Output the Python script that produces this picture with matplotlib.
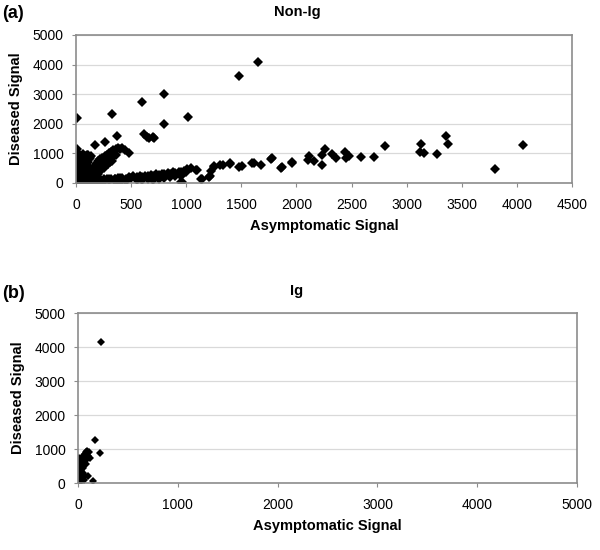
import matplotlib
matplotlib.use("Agg")
import matplotlib.pyplot as plt

plt.rcParams['font.family'] = ['Liberation Sans', 'DejaVu Sans']

# (a) Non-Ig: asymptomatic vs diseased signal
nonig_x = [
    # cluster near origin
    0, 5, 10, 15, 20, 25, 30, 10, 5, 15, 20, 0, 40, 50, 60, 70, 80, 90, 100, 110,
    120, 130, 140, 60, 40, 50, 30, 20, 80, 100, 120, 140, 160, 180, 200, 220,
    240, 260, 280, 300, 320, 340, 360, 380, 160, 180, 200, 220, 240, 260, 280,
    300, 320, 340, 360, 180, 200, 220, 250, 270, 290, 310, 330, 120, 140, 160,
    150, 100, 70, 200, 250, 300, 350, 400, 30, 50, 70, 90, 110, 15, 60, 35, 45,
    # lower branch
    150, 180, 200, 230, 250, 280, 300, 320, 350, 380, 400, 420, 450, 480, 500,
    520, 550, 580, 600, 630, 650, 680, 700, 730, 750, 780, 800, 830, 850, 880,
    900, 930, 950, 980, 1000, 350, 450, 550, 650, 750, 850, 950, 400, 600, 700,
    800, 900, 1010, 1040, 1085, 1100, 1130, 1139, 1205, 1220, 1221, 1250, 1250,
    1310, 1335, 1400, 1401, 1476, 1506, 1596, 1611, 1677, 1776, 1770, 1867,
    1860, 1957, 1963, 2101, 2113, 2161, 2233, 2236, 2257, 2326, 2362, 2444,
    2453, 2474, 2588, 2699, 2799, 3123, 3129, 3159, 3273, 3360, 3375, 3805,
    4051, 956, 965,
    # outliers
    10, 330, 600, 800, 800, 1020, 1480, 1650, 620, 660, 700, 370, 10, 170, 260,
    100, 480, 400, 640, 710, 420, 440,
]
nonig_y = [
    0, 30, 80, 150, 250, 350, 450, 500, 600, 700, 800, 300, 60, 120, 200, 300,
    400, 500, 600, 700, 800, 850, 900, 650, 550, 400, 200, 100, 150, 250, 350,
    450, 550, 650, 750, 800, 850, 900, 950, 1000, 1050, 1100, 1150, 1180, 300,
    400, 500, 600, 650, 700, 750, 800, 850, 900, 950, 250, 300, 400, 500, 600,
    650, 700, 750, 150, 200, 100, 50, 30, 20, 150, 120, 140, 150, 160, 600, 750,
    850, 900, 950, 1000, 980, 20, 880,
    60, 90, 70, 110, 80, 120, 100, 140, 120, 160, 130, 170, 150, 200, 170, 220,
    190, 230, 210, 250, 230, 270, 250, 290, 280, 320, 300, 340, 320, 360, 340,
    380, 370, 400, 380, 60, 80, 100, 120, 150, 200, 250, 40, 90, 110, 180, 220,
    470, 500, 440, 440, 125, 135, 213, 236, 416, 551, 585, 608, 608, 642, 665,
    551, 585, 686, 687, 608, 834, 800, 530, 518, 687, 699, 777, 912, 743, 608,
    946, 1149, 980, 834, 1058, 855, 912, 889, 889, 1261, 1036, 1306, 1024, 980,
    1588, 1318, 480, 1300, 24, 44,
    2200, 2320, 2750, 3000, 2000, 2220, 3600, 4080, 1650, 1530, 1570, 1580,
    1150, 1300, 1400, 950, 1020, 1140, 1565, 1530, 1180, 1120,
]

# (b) Ig
ig_x = [0, 5, 10, 15, 20, 8, 25, 30, 40, 35, 50, 45, 60, 55, 70, 80, 90, 100,
        65, 20, 10, 5, 30, 60, 75, 50, 40, 85, 95, 110, 120, 15, 0, 2, 45, 100,
        147, 170, 220, 230]
ig_y = [0, 50, 100, 200, 300, 400, 500, 150, 250, 350, 450, 600, 700, 800,
        850, 900, 950, 800, 650, 650, 550, 250, 50, 100, 200, 300, 700, 550,
        700, 900, 750, 750, 150, 350, 100, 200, 60, 1265, 890, 4150]


def style_axes(ax, xmax, xstep):
    ax.set_xlim(0, xmax)
    ax.set_ylim(0, 5000)
    ax.set_xticks(range(0, xmax + 1, xstep))
    ax.set_yticks(range(0, 5001, 1000))
    ax.grid(axis='y', color='#d9d9d9', linewidth=0.9)
    ax.set_axisbelow(True)
    for s in ax.spines.values():
        s.set_color('#8c8c8c')
        s.set_linewidth(1.2)
    ax.tick_params(direction='out', length=3, color='#8c8c8c', labelsize=10)
    ax.tick_params(axis='x', pad=8)
    ax.tick_params(axis='y', pad=6)
    ax.set_xlabel('Asymptomatic Signal', fontsize=10.5, fontweight='bold', labelpad=5)
    ax.set_ylabel('Diseased Signal', fontsize=10.5, fontweight='bold', labelpad=7)


fig = plt.figure(figsize=(6, 5.5), dpi=100)

ax1 = fig.add_axes([0.1267, 0.6673, 0.8267, 0.2691])
ax1.plot(nonig_x, nonig_y, 'D', color='black', markersize=5, markeredgewidth=0)
style_axes(ax1, 4500, 500)

ax2 = fig.add_axes([0.13, 0.1218, 0.8317, 0.3091])
ax2.plot(ig_x, ig_y, 'D', color='black', markersize=4, markeredgewidth=0)
style_axes(ax2, 5000, 1000)

fig.text(0.495, 0.978, 'Non-Ig', fontsize=10.5, fontweight='bold', ha='center', va='center')
fig.text(0.495, 0.471, 'Ig', fontsize=10.5, fontweight='bold', ha='center', va='center')
fig.text(0.003, 0.976, '(a)', fontsize=13, fontweight='bold', va='center')
fig.text(0.003, 0.467, '(b)', fontsize=13, fontweight='bold', va='center')

fig.savefig('out.png', dpi=100)
